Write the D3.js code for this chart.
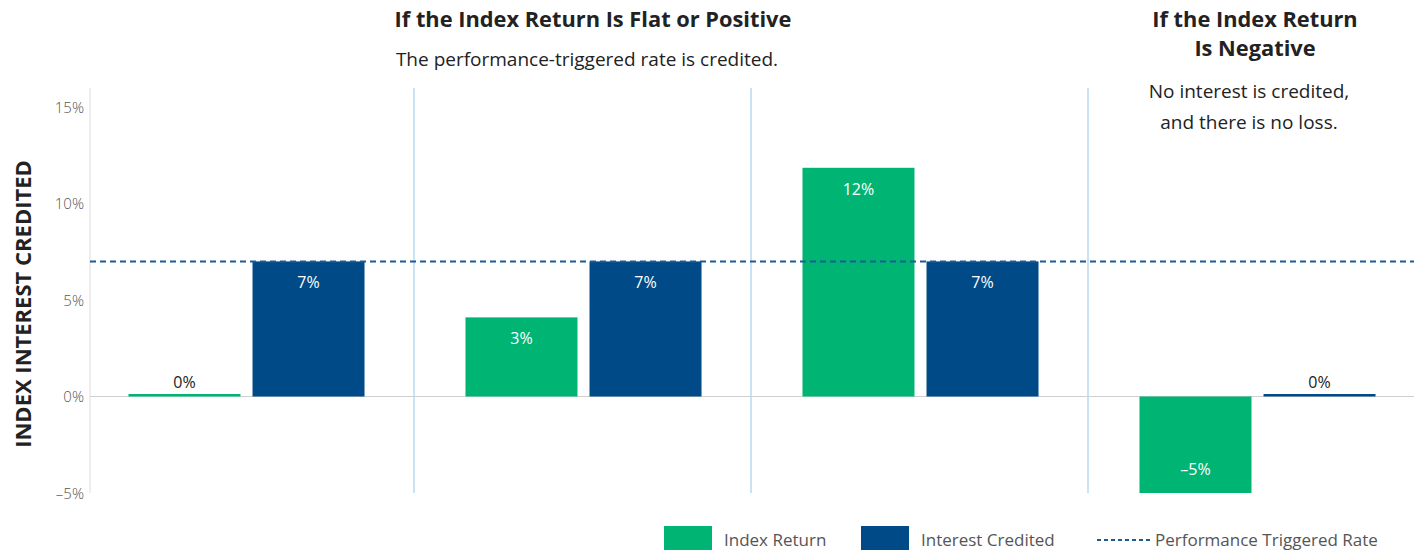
<!DOCTYPE html>
<html>
<head>
<meta charset="utf-8">
<script src="https://cdn.jsdelivr.net/npm/d3@7"></script>
<style>
  body { margin: 0; background: #fff; }
  svg { font-family: "Open Sans", Lato, sans-serif; }
</style>
</head>
<body>
<div id="chart"></div>
<script>
// chart data
var groups = ['flat', 'positive', 'high', 'negative'];
var series = ['Index Return', 'Interest Credited'];
var indexReturn = [0, 4.1, 11.85, -5];
var interestCredited = [7, 7, 7, 0];
var indexLabels = ['0%', '3%', '12%', '\u20135%'];
var creditedLabels = ['7%', '7%', '7%', '0%'];
var triggerRate = 7;
var yTicks = [-5, 0, 5, 10, 15];
var yTickLabels = ['\u20135%', '0%', '5%', '10%', '15%'];

var colors = { 'Index Return': '#00b574', 'Interest Credited': '#004b87' };

var width = 1414, height = 550;
var svg = d3.select('#chart').append('svg').attr('width', width).attr('height', height);

// scales
var y = d3.scaleLinear().domain([-5, 15]).range([493, 107]);
var x = d3.scaleBand().domain(groups).range([78, 1426]).padding(0);
var xSub = d3.scaleBand().domain(series).range([0, x.bandwidth()]).paddingInner(0.097).paddingOuter(0.407);

// left axis line and zero line
svg.append('line').attr('x1', 90).attr('x2', 90).attr('y1', 88).attr('y2', 493)
  .attr('stroke', '#dcdcdc').attr('stroke-width', 1);
svg.append('line').attr('x1', 90).attr('x2', width).attr('y1', y(0)).attr('y2', y(0))
  .attr('stroke', '#cfcfcf').attr('stroke-width', 1);

// y axis ticks
var yAxis = svg.append('g').attr('transform', 'translate(84,0)')
  .call(d3.axisLeft(y).tickValues(yTicks).tickSize(0).tickPadding(0)
    .tickFormat(function(d, i) { return yTickLabels[i]; }));
yAxis.select('.domain').remove();
yAxis.selectAll('text').attr('font-size', 15).attr('fill', '#555')
  .attr('font-family', '"Open Sans", sans-serif').attr('font-weight', 300).attr('dy', '0.35em');

// y axis title
svg.append('text').attr('transform', 'translate(31,304) rotate(-90)')
  .attr('text-anchor', 'middle').attr('font-size', 22).attr('font-weight', 'bold')
  .attr('fill', '#222').text('INDEX INTEREST CREDITED');

// separators between groups
svg.selectAll('.sep').data(groups.slice(1)).enter().append('line')
  .attr('class', 'sep')
  .attr('x1', function(d) { return x(d) - 1; })
  .attr('x2', function(d) { return x(d) - 1; })
  .attr('y1', 88).attr('y2', 493)
  .attr('stroke', '#b9d8ee').attr('stroke-width', 1.5);

// bars
var rows = groups.map(function(g, i) {
  return [
    { group: g, key: 'Index Return', value: indexReturn[i], label: indexLabels[i] },
    { group: g, key: 'Interest Credited', value: interestCredited[i], label: creditedLabels[i] }
  ];
});

var gGroups = svg.selectAll('.grp').data(rows).enter().append('g')
  .attr('class', 'grp')
  .attr('transform', function(d) { return 'translate(' + x(d[0].group) + ',0)'; });

gGroups.selectAll('rect').data(function(d) { return d; }).enter().append('rect')
  .attr('x', function(d) { return xSub(d.key); })
  .attr('width', xSub.bandwidth())
  .attr('y', function(d) {
    if (d.value === 0) return y(0) - 2.5;
    return d.value > 0 ? y(d.value) : y(0);
  })
  .attr('height', function(d) {
    if (d.value === 0) return 2.5;
    return Math.abs(y(d.value) - y(0));
  })
  .attr('fill', function(d) { return colors[d.key]; });

gGroups.selectAll('text').data(function(d) { return d; }).enter().append('text')
  .attr('x', function(d) { return xSub(d.key) + xSub.bandwidth() / 2; })
  .attr('y', function(d) {
    if (d.value === 0) return y(0) - 9;
    if (d.value > 0) return y(d.value) + 27;
    return y(d.value) - 18;
  })
  .attr('text-anchor', 'middle').attr('font-size', 16)
  .attr('fill', function(d) { return d.value === 0 ? '#222' : '#fff'; })
  .text(function(d) { return d.label; });

// dashed performance-triggered rate line
svg.append('line').attr('x1', 90).attr('x2', width).attr('y1', y(triggerRate)).attr('y2', y(triggerRate))
  .attr('stroke', '#1d5b97').attr('stroke-width', 2).attr('stroke-dasharray', '6,4');

// headers
svg.append('text').attr('x', 593).attr('y', 27).attr('text-anchor', 'middle')
  .attr('font-size', 21.8).attr('font-weight', 'bold').attr('fill', '#222')
  .text('If the Index Return Is Flat or Positive');
svg.append('text').attr('x', 587).attr('y', 66).attr('text-anchor', 'middle')
  .attr('font-size', 19).attr('fill', '#222')
  .text('The performance-triggered rate is credited.');

var rh = svg.append('text').attr('text-anchor', 'middle').attr('font-size', 21.8)
  .attr('font-weight', 'bold').attr('fill', '#222');
rh.append('tspan').attr('x', 1255).attr('y', 27).text('If the Index Return');
rh.append('tspan').attr('x', 1255).attr('y', 56).text('Is Negative');

var rs = svg.append('text').attr('text-anchor', 'middle').attr('font-size', 19).attr('fill', '#222');
rs.append('tspan').attr('x', 1249).attr('y', 98).text('No interest is credited,');
rs.append('tspan').attr('x', 1249).attr('y', 129).text('and there is no loss.');

// legend
var legend = svg.append('g');
legend.append('rect').attr('x', 664).attr('y', 526).attr('width', 48).attr('height', 24).attr('fill', colors['Index Return']);
legend.append('text').attr('x', 724).attr('y', 546).attr('font-size', 17).attr('fill', '#555').text('Index Return');
legend.append('rect').attr('x', 861).attr('y', 526).attr('width', 48).attr('height', 24).attr('fill', colors['Interest Credited']);
legend.append('text').attr('x', 921).attr('y', 546).attr('font-size', 17).attr('fill', '#555').text('Interest Credited');
legend.append('line').attr('x1', 1097).attr('x2', 1150).attr('y1', 540).attr('y2', 540)
  .attr('stroke', '#1d5b97').attr('stroke-width', 2).attr('stroke-dasharray', '4,3');
legend.append('text').attr('x', 1155).attr('y', 546).attr('font-size', 17).attr('fill', '#555').text('Performance Triggered Rate');
</script>
</body>
</html>
